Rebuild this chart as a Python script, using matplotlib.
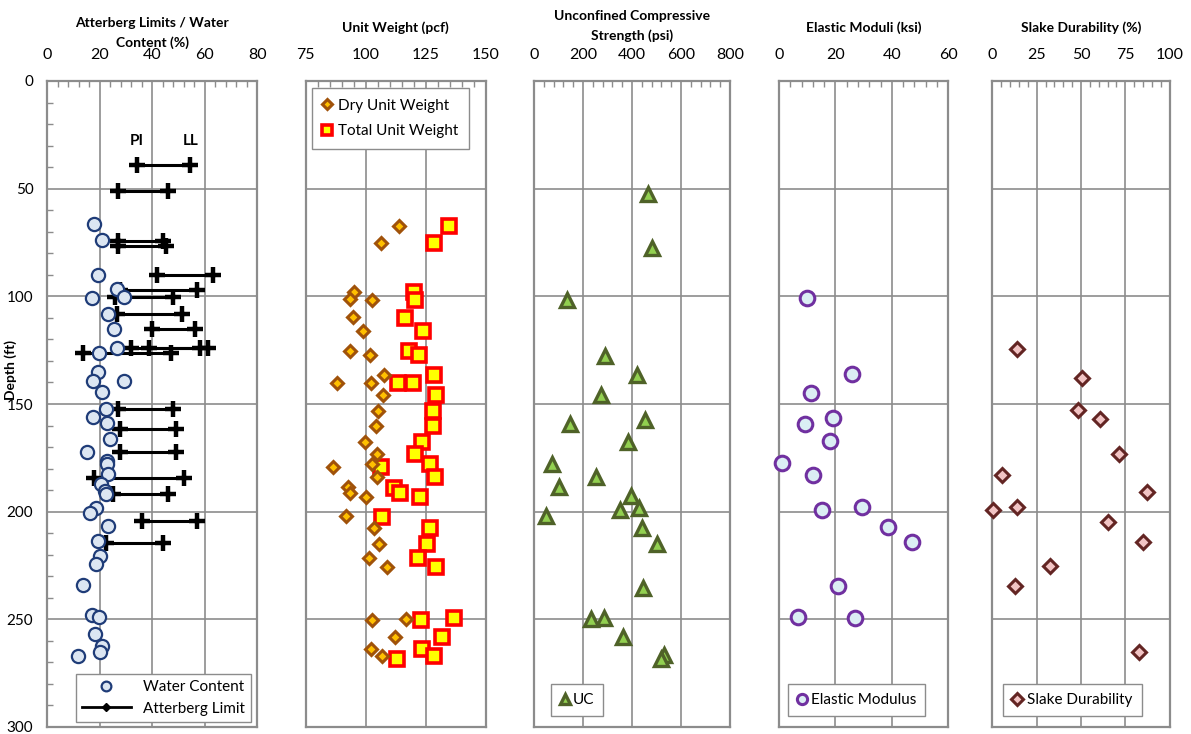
import matplotlib
matplotlib.use("Agg")
import matplotlib.pyplot as plt
from matplotlib.lines import Line2D
from matplotlib.ticker import MultipleLocator

plt.rcParams['font.family'] = ['Lato', 'DejaVu Sans']

# ---- water content / atterberg limits
wc_depth = [66.2, 74.0, 90.0, 96.7, 100.6, 100.2, 108.3, 115.0, 124.0, 126.3,
            135.3, 139.2, 139.2, 144.3, 152.2, 156.1, 158.9, 166.2, 172.4, 176.3,
            178.0, 182.6, 187.3, 190.3, 191.8, 198.2, 200.8, 206.6, 213.8, 220.5,
            224.5, 234.2, 248.1, 249.1, 257.0, 262.6, 265.2, 267.1]
wc_val = [17.9, 20.8, 19.4, 26.7, 16.9, 29.3, 23.0, 25.4, 26.6, 19.8,
          19.4, 17.5, 29.1, 20.7, 22.2, 17.3, 22.9, 23.8, 15.0, 22.9,
          22.9, 23.2, 20.3, 22.0, 22.2, 18.4, 16.3, 23.0, 19.4, 20.1,
          18.6, 13.5, 16.9, 19.8, 18.2, 20.8, 20.1, 11.6]

al_depth = [39.1, 51.2, 74.3, 76.7, 90.0, 97.0, 100.2, 108.3, 115.1, 124.0,
            124.0, 126.3, 152.2, 161.5, 172.4, 184.5, 191.8, 204.5, 214.5]
al_pi = [34.1, 26.9, 26.9, 26.9, 41.9, 27.7, 25.8, 26.7, 40.0, 31.8,
         38.9, 13.7, 27.0, 27.7, 27.7, 17.9, 24.9, 36.1, 22.4]
al_ll = [54.4, 45.9, 44.2, 45.1, 63.0, 57.1, 48.0, 51.2, 56.3, 58.3,
         61.3, 47.0, 48.0, 49.0, 49.0, 52.1, 45.9, 57.1, 44.2]

# ---- unit weight
dry_depth = [67.4, 75.3, 97.8, 101.2, 101.8, 109.7, 116.2, 125.2, 127.4, 136.4,
             140.4, 140.1, 145.6, 153.3, 160.1, 167.6, 173.2, 179.1, 178.0, 183.7,
             188.4, 191.5, 193.1, 202.0, 207.6, 215.1, 221.6, 225.6, 250.1, 249.7,
             258.2, 263.6, 266.8]
dry_uw = [114.0, 106.4, 95.0, 93.5, 102.8, 94.6, 98.8, 93.3, 101.7, 107.6,
          87.9, 102.0, 107.1, 105.0, 104.3, 99.6, 104.9, 86.5, 102.8, 104.5,
          92.8, 93.6, 100.3, 91.9, 103.5, 105.4, 101.4, 109.0, 102.5, 116.8,
          112.2, 102.1, 106.7]
tot_depth = [67.4, 75.4, 97.9, 101.6, 109.9, 116.1, 125.2, 127.4, 136.5, 140.4,
             140.1, 145.6, 153.3, 160.1, 167.6, 173.2, 178.0, 179.1, 183.7, 188.9,
             191.5, 193.1, 202.4, 207.8, 215.1, 221.6, 225.6, 249.5, 250.1, 258.2,
             263.8, 266.8, 268.5]
tot_uw = [134.7, 128.6, 120.3, 120.5, 116.3, 123.8, 118.2, 122.1, 128.4, 113.6,
          119.8, 129.2, 128.2, 128.2, 123.5, 120.5, 126.7, 106.4, 128.8, 111.9,
          114.2, 122.7, 106.9, 126.9, 125.4, 121.6, 129.3, 136.7, 123.2, 131.7,
          123.6, 128.3, 112.9]

# ---- unconfined compressive strength
uc_depth = [52.7, 77.6, 101.5, 127.5, 136.5, 145.7, 159.4, 157.3, 167.5, 177.9,
            183.8, 188.7, 192.9, 199.4, 198.5, 202.2, 207.5, 215.0, 235.4, 250.0,
            249.4, 258.0, 266.6, 268.6]
uc_val = [466, 483, 135, 290, 420, 275, 148, 452, 382, 75,
          254, 101, 397, 351, 427, 49, 440, 503, 446, 233,
          286, 365, 532, 520]

# ---- elastic modulus
em_depth = [100.7, 136.1, 145.1, 156.7, 159.5, 167.1, 177.4, 183.2, 199.0, 198.0,
            207.0, 214.3, 234.4, 248.7, 249.4]
em_val = [10.0, 25.8, 11.3, 19.2, 9.2, 18.0, 1.1, 12.0, 15.3, 29.3,
          38.5, 47.0, 20.9, 6.9, 26.9]

# ---- slake durability
sd_depth = [124.4, 138.0, 152.9, 156.8, 173.0, 183.2, 190.8, 199.0, 198.0, 205.0,
            214.1, 225.0, 234.6, 265.1]
sd_val = [13.7, 50.6, 48.3, 60.9, 71.4, 5.3, 87.1, 0.6, 13.9, 65.4,
          84.7, 32.7, 12.9, 82.8]

W, H = 1191, 734
fig = plt.figure(figsize=(W / 100, H / 100), dpi=100)

GRID = '#8c8c8c'
top_px, bot_px = 81, 727


def make_ax(x0, x1, xlim, xmajor, xminor, title, title_y, left_labels=False):
    ax = fig.add_axes([x0 / W, 1 - bot_px / H, (x1 - x0) / W, (bot_px - top_px) / H])
    ax.set_xlim(*xlim)
    ax.set_ylim(300, 0)
    ax.xaxis.tick_top()
    ax.xaxis.set_major_locator(MultipleLocator(xmajor))
    ax.xaxis.set_minor_locator(MultipleLocator(xminor))
    ax.yaxis.set_major_locator(MultipleLocator(50))
    ax.grid(True, which='major', color=GRID, lw=1.2)
    ax.set_axisbelow(True)
    for s in ax.spines.values():
        s.set_color(GRID)
        s.set_linewidth(1.6)
    ax.tick_params(axis='x', which='major', length=0, pad=14, labelsize=11.5)
    ax.tick_params(axis='x', which='minor', direction='in', length=4, color=GRID, width=1)
    if left_labels:
        ax.yaxis.set_minor_locator(MultipleLocator(10))
        ax.tick_params(axis='y', which='major', length=0, pad=10, labelsize=11)
        ax.tick_params(axis='y', which='minor', direction='in', length=4, color=GRID, width=1)
        fig.text(11 / W, 1 - 370 / H, 'Depth (ft)', rotation=90, ha='center', va='center',
                 fontsize=10, fontweight='bold')
    else:
        ax.tick_params(axis='y', which='both', length=0, labelleft=False)
    xc = (x0 + x1) / 2 / W
    fig.text(xc, 1 - title_y / H, title, ha='center', va='center', fontsize=10,
             fontweight='bold', linespacing=1.7)
    return ax


# panel 1
ax1 = make_ax(47.3, 257.3, (0, 80), 20, 4, 'Atterberg Limits / Water\nContent (%)', 33,
              left_labels=True)
for d, pi, ll in zip(al_depth, al_pi, al_ll):
    ax1.plot([pi, ll], [d, d], color='black', lw=2.2, marker='+', ms=11, mew=3.2, zorder=3)
ax1.plot(wc_val, wc_depth, 'o', ms=9.5, mfc='#dce6f2', mec='#1f3c78', mew=1.6, zorder=4)
ax1.text(34, 28, 'PI', fontsize=11, fontweight='bold', ha='center', va='center')
ax1.text(54.5, 28, 'LL', fontsize=11, fontweight='bold', ha='center', va='center')
h1 = [Line2D([], [], ls='none', marker='o', ms=7, mfc='#dce6f2', mec='#1f3c78', mew=1.6),
      Line2D([], [], color='black', lw=2, marker='D', ms=4.5)]
ax1.legend(h1, ['Water Content', 'Atterberg Limit'], loc='lower right',
           bbox_to_anchor=(0.97, 0.008), borderaxespad=0, fontsize=11, handlelength=3.2,
           fancybox=False, edgecolor=GRID, framealpha=1, labelspacing=0.5,
           borderpad=0.4)

# panel 2
ax2 = make_ax(305.7, 485.7, (75, 150), 25, 5, 'Unit Weight (pcf)', 28)
ax2.plot(dry_uw, dry_depth, 'D', ms=6.5, mfc='#ffc000', mec='#a0520a', mew=2.2, zorder=4,
         label='Dry Unit Weight')
ax2.plot(tot_uw, tot_depth, 's', ms=9.5, mfc='#ffff00', mec='#ff0000', mew=2.6, zorder=3,
         label='Total Unit Weight')
ax2.legend(loc='upper left', bbox_to_anchor=(0.035, 0.989), borderaxespad=0, fontsize=11,
           handlelength=0.6, handletextpad=0.4, fancybox=False, edgecolor=GRID,
           framealpha=1, markerscale=0.8, labelspacing=0.75, borderpad=0.7)

# panel 3
ax3 = make_ax(534, 730, (0, 800), 200, 40, 'Unconfined Compressive\nStrength (psi)', 26)
ax3.plot(uc_val, uc_depth, '^', ms=10, mfc='#92d050', mec='#4f6228', mew=2.4, zorder=4,
         clip_on=False, label='UC')
ax3.legend(loc='lower left', bbox_to_anchor=(0.087, 0.017), borderaxespad=0, fontsize=11,
           handlelength=0.6, handletextpad=0.2, fancybox=False, edgecolor=GRID,
           framealpha=1, markerscale=0.7, borderpad=0.6)

# panel 4
ax4 = make_ax(779, 948.3, (0, 60), 20, 4, 'Elastic Moduli (ksi)', 28)
ax4.plot(em_val, em_depth, 'o', ms=10.5, mfc='#dbeef4', mec='#7030a0', mew=2.2, zorder=4,
         clip_on=False, label='Elastic Modulus')
ax4.legend(loc='lower left', bbox_to_anchor=(0.053, 0.017), borderaxespad=0, fontsize=11,
           handlelength=0.6, handletextpad=0.3, fancybox=False, edgecolor=GRID,
           framealpha=1, markerscale=0.7, borderpad=0.6)

# panel 5
ax5 = make_ax(992.3, 1169.7, (0, 100), 25, 5, 'Slake Durability (%)', 28)
ax5.plot(sd_val, sd_depth, 'D', ms=7.5, mfc='#f2c4c4', mec='#632523', mew=2.2, zorder=4,
         clip_on=False, label='Slake Durability')
ax5.legend(loc='lower left', bbox_to_anchor=(0.06, 0.017), borderaxespad=0, fontsize=11,
           handlelength=0.6, handletextpad=0.4, fancybox=False, edgecolor=GRID,
           framealpha=1, markerscale=0.8, borderpad=0.6)

fig.savefig('out.png', dpi=100)
